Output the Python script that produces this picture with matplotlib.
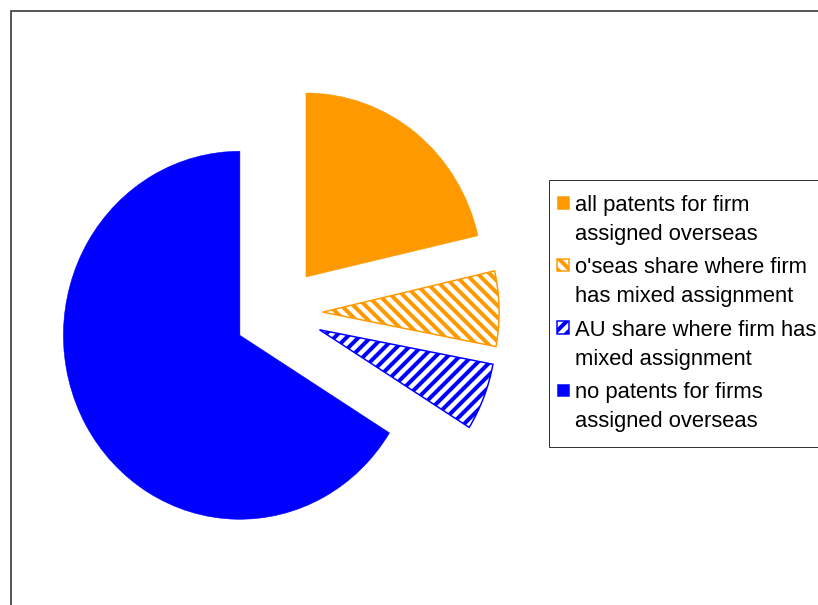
"""
Pie of patent assignment shares (exploded, hatched mixed-assignment slices).
"""
import matplotlib
matplotlib.use('Agg')
import matplotlib.pyplot as plt
import matplotlib.patches as mpatches
from matplotlib.legend_handler import HandlerPatch

# --- data -------------------------------------------------------------
labels = [
    "all patents for firm\nassigned overseas",
    "o'seas share where firm\nhas mixed assignment",
    "AU share where firm has\nmixed assignment",
    "no patents for firms\nassigned overseas",
]
shares = [21.4, 6.6, 5.9, 66.1]

colors = ['#FF9900', '#FF9900', '#0000FF', '#0000FF']
hatches = [None, '\\\\', '//', None]

plt.rcParams['font.family'] = ['Liberation Sans', 'DejaVu Sans']
plt.rcParams['hatch.linewidth'] = 4.0

DPI = 72
fig = plt.figure(figsize=(818 / DPI, 605 / DPI), dpi=DPI)
ax = fig.add_axes([0, 0, 1, 1])

wedges, _ = ax.pie(shares, explode=[0.25] * 4, startangle=90,
                   counterclock=False, colors=colors)
for w, c, h in zip(wedges, colors, hatches):
    if h:
        w.set_facecolor('white')
        w.set_edgecolor(c)
        w.set_hatch(h)
        w.set_linewidth(1.5)
    else:
        w.set_edgecolor(c)
        w.set_linewidth(0.5)

# pie is slightly squashed horizontally in the original
ax.set_aspect('auto')
ax.set_xlim(-1.578, 3.057)
ax.set_ylim(-1.587, 1.701)
ax.axis('off')

# legend: square marker sits on the first line of each two-line label
FS = 22


def square_first_line(legend, orig_handle, xdescent, ydescent, width,
                      height, fontsize):
    return mpatches.Rectangle((-7, 19), 12.5, 12.5)


leg = ax.legend(wedges, labels, loc='upper left',
                bbox_to_anchor=(549 / 818, 1 - 180 / 605),
                bbox_transform=fig.transFigure, borderaxespad=0,
                fontsize=FS, frameon=True, fancybox=False, framealpha=1,
                edgecolor='#333333', borderpad=0.68, labelspacing=0.58,
                handlelength=0.3, handleheight=0.7, handletextpad=0.2,
                handler_map={mpatches.Wedge: HandlerPatch(patch_func=square_first_line)})
leg.get_frame().set_linewidth(1.0)
for t in leg.get_texts():
    t.set_linespacing(1.48)

# outer chart border (right/bottom sides fall outside the picture)
fig.patches.append(mpatches.Rectangle((11 / 818, -0.2), 1.2, 1.2 - 11 / 605,
                                      transform=fig.transFigure, fill=False,
                                      edgecolor='#222222', linewidth=1.5,
                                      clip_on=False))

fig.savefig('out.png', dpi=DPI)
